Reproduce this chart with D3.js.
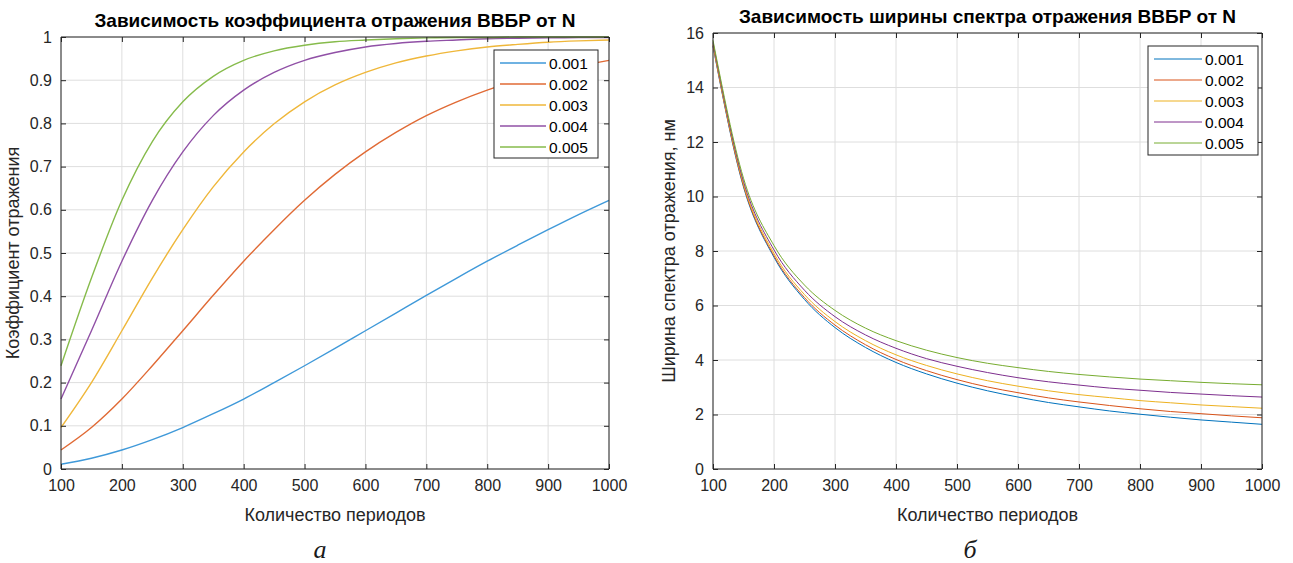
<!DOCTYPE html>
<html><head><meta charset="utf-8">
<script src="https://cdn.jsdelivr.net/npm/d3@7"></script>
<style>
body{margin:0;background:#fff;}
svg{display:block;font-family:"Liberation Sans",Arial,sans-serif;}
</style></head>
<body>
<svg id="chart" width="1293" height="563"></svg>
<script>
// ---------- data ----------
const periods = [100,150,200,250,300,350,400,450,500,550,600,650,700,750,800,850,900,950,1000];
const seriesNames = ["0.001","0.002","0.003","0.004","0.005"];
const xTicks = [100,200,300,400,500,600,700,800,900,1000];
const reflTicks = [0,0.1,0.2,0.3,0.4,0.5,0.6,0.7,0.8,0.9,1];
const widthTicks = [0,2,4,6,8,10,12,14,16];

// reflection coefficient (panel a)
const refl001 = [0.011,0.025,0.044,0.068,0.096,0.128,0.162,0.200,0.239,0.279,0.320,0.361,0.402,0.442,0.481,0.518,0.554,0.589,0.622];
const refl002 = [0.044,0.096,0.162,0.239,0.320,0.402,0.481,0.554,0.622,0.682,0.734,0.779,0.818,0.850,0.877,0.900,0.918,0.933,0.946];
const refl003 = [0.096,0.200,0.320,0.442,0.554,0.653,0.734,0.799,0.850,0.889,0.918,0.940,0.956,0.968,0.977,0.983,0.988,0.991,0.993];
const refl004 = [0.162,0.320,0.481,0.622,0.734,0.818,0.877,0.918,0.946,0.964,0.977,0.985,0.990,0.993,0.996,0.997,0.998,0.999,0.999];
const refl005 = [0.239,0.442,0.622,0.758,0.850,0.909,0.946,0.968,0.981,0.989,0.993,0.996,0.998,0.999,0.999,1.000,1.000,1.000,1.000];

// spectral width, nm (panel b)
const width001 = [15.51,10.35,7.77,6.22,5.19,4.46,3.91,3.49,3.15,2.87,2.64,2.44,2.28,2.13,2.01,1.90,1.80,1.72,1.64];
const width002 = [15.54,10.39,7.82,6.29,5.28,4.56,4.02,3.61,3.28,3.01,2.80,2.61,2.46,2.33,2.21,2.11,2.03,1.95,1.88];
const width003 = [15.58,10.46,7.91,6.40,5.41,4.71,4.19,3.80,3.49,3.24,3.04,2.87,2.73,2.62,2.51,2.43,2.35,2.29,2.23];
const width004 = [15.65,10.55,8.04,6.56,5.59,4.92,4.43,4.05,3.77,3.54,3.35,3.20,3.08,2.97,2.89,2.81,2.75,2.69,2.64];
const width005 = [15.73,10.67,8.20,6.75,5.82,5.17,4.71,4.36,4.09,3.88,3.72,3.58,3.47,3.38,3.30,3.24,3.18,3.13,3.09];

const colorsA = ["#3f99d9","#e06a35","#efb73a","#9050a6","#86bb4b"];
const colorsB = ["#0072BD","#D95319","#EDB120","#7E2F8E","#77AC30"];

// ---------- drawing ----------
const svg = d3.select("#chart");
const AXC = "#262626";

function panel(cfg){
  const g = svg.append("g");
  const x = d3.scaleLinear().domain([100,1000]).range([cfg.x0,cfg.x1]);
  const y = d3.scaleLinear().domain(cfg.ydom).range([cfg.y1,cfg.y0]);
  // grid
  g.append("g").selectAll("line").data(xTicks).join("line")
    .attr("x1",d=>x(d)).attr("x2",d=>x(d)).attr("y1",cfg.y0).attr("y2",cfg.y1)
    .attr("stroke","#dedede").attr("stroke-width",1);
  g.append("g").selectAll("line").data(cfg.yticks).join("line")
    .attr("x1",cfg.x0).attr("x2",cfg.x1).attr("y1",d=>y(d)).attr("y2",d=>y(d))
    .attr("stroke","#dedede").attr("stroke-width",1);
  // lines
  const line = d3.line().x((d,i)=>x(periods[i])).y(d=>y(d)).curve(d3.curveMonotoneX);
  cfg.series.forEach((s,i)=>{
    g.append("path").attr("d",line(s)).attr("fill","none")
      .attr("stroke",cfg.colors[i]).attr("stroke-width",cfg.lw);
  });
  // axes
  const ts = 5;
  const bottom = g.append("g").attr("transform",`translate(0,${cfg.y1})`)
    .call(d3.axisBottom(x).tickValues(xTicks).tickSize(-ts).tickPadding(11).tickFormat(d3.format("d")));
  const top = g.append("g").attr("transform",`translate(0,${cfg.y0})`)
    .call(d3.axisTop(x).tickValues(xTicks).tickSize(-ts).tickFormat(""));
  const left = g.append("g").attr("transform",`translate(${cfg.x0},0)`)
    .call(d3.axisLeft(y).tickValues(cfg.yticks).tickSize(-ts).tickPadding(9).tickFormat(cfg.yfmt));
  const right = g.append("g").attr("transform",`translate(${cfg.x1},0)`)
    .call(d3.axisRight(y).tickValues(cfg.yticks).tickSize(-ts).tickFormat(""));
  [bottom,top,left,right].forEach(a=>{
    a.select(".domain").attr("stroke",AXC).attr("stroke-width",1)
      .attr("d", a===bottom||a===top ? `M${cfg.x0},0H${cfg.x1}` : `M0,${cfg.y0}V${cfg.y1}`);
    a.selectAll(".tick line").attr("stroke",AXC);
    a.selectAll("text").attr("fill",AXC).style("font-size","16px").style("font-family","Liberation Sans, Arial, sans-serif");
  });
  // title
  g.append("text").attr("x",(cfg.x0+cfg.x1)/2).attr("y",cfg.y0-10).attr("text-anchor","middle")
    .style("font-size","19px").style("font-weight","bold").attr("fill","#000").text(cfg.title);
  // x label
  g.append("text").attr("x",(cfg.x0+cfg.x1)/2).attr("y",cfg.y1+52).attr("text-anchor","middle")
    .style("font-size","18px").attr("fill",AXC).text("Количество периодов");
  // y label
  g.append("text").attr("transform",`translate(${cfg.ylabX},${(cfg.y0+cfg.y1)/2}) rotate(-90)`)
    .attr("text-anchor","middle").style("font-size","18px").attr("fill",AXC).text(cfg.ylab);
  // legend
  const L = cfg.leg;
  g.append("rect").attr("x",L.x).attr("y",L.y).attr("width",L.w).attr("height",L.h)
    .attr("fill","#fff").attr("stroke",AXC).attr("stroke-width",1);
  seriesNames.forEach((n,i)=>{
    const yy = L.y + 13 + i*L.step;
    g.append("line").attr("x1",L.x+6).attr("x2",L.x+6+L.len).attr("y1",yy).attr("y2",yy)
      .attr("stroke",cfg.colors[i]).attr("stroke-width",cfg.lw);
    g.append("text").attr("x",L.x+9+L.len).attr("y",yy+5.5).style("font-size","15.5px")
      .attr("fill","#000").text(n);
  });
  // sub-caption
  g.append("text").attr("x",cfg.capX).attr("y",558).attr("text-anchor","middle")
    .style("font-family","Liberation Serif, serif").style("font-style","italic").style("font-size","26px")
    .attr("fill","#1a1a1a").text(cfg.cap);
}

panel({x0:61,x1:609,y0:37,y1:469,ydom:[0,1],yticks:reflTicks,yfmt:d=>d===0||d===1?d3.format("d")(d):d3.format(".1f")(d),
  series:[refl001,refl002,refl003,refl004,refl005],colors:colorsA,lw:1.4,
  title:"Зависимость коэффициента отражения ВВБР от N",ylab:"Коэффициент отражения",ylabX:19,
  leg:{x:494,y:50,w:104,h:108,step:21,len:46},cap:"а",capX:320});

panel({x0:713,x1:1262,y0:33,y1:469,ydom:[0,16],yticks:widthTicks,yfmt:d3.format("d"),
  series:[width001,width002,width003,width004,width005],colors:colorsB,lw:1,
  title:"Зависимость ширины спектра отражения ВВБР от N",ylab:"Ширина спектра отражения, нм",ylabX:675,
  leg:{x:1148,y:46,w:110,h:109,step:21,len:48},cap:"б",capX:970});
</script>
</body></html>
